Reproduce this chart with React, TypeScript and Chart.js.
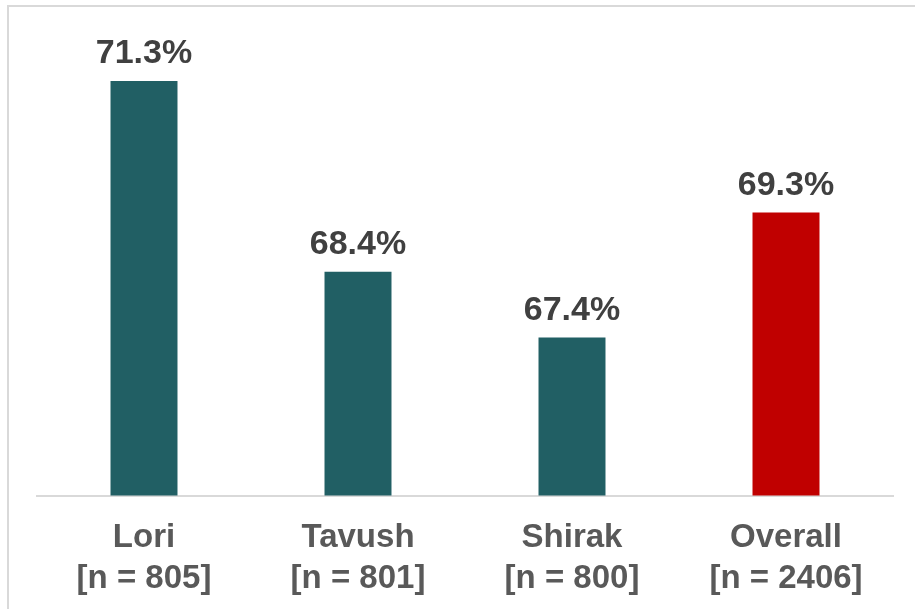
import React, { useEffect, useRef } from "react";
import { Chart, registerables } from "chart.js";

Chart.register(...registerables);

const categories: string[][] = [
  ["Lori", "[n = 805]"],
  ["Tavush", "[n = 801]"],
  ["Shirak", "[n = 800]"],
  ["Overall", "[n = 2406]"],
];
const values: number[] = [71.3, 68.4, 67.4, 69.3];
const barColors: string[] = ["#215F64", "#215F64", "#215F64", "#C00000"];
const axisMin = 65;
const axisMax = 72;

const FONT = "'Liberation Sans', Arial, sans-serif";

const framePlugin = {
  id: "frame",
  beforeDraw(chart: any) {
    const ctx = chart.ctx;
    ctx.save();
    ctx.fillStyle = "#ffffff";
    ctx.fillRect(0, 0, chart.width, chart.height);
    ctx.strokeStyle = "#d9d9d9";
    ctx.lineWidth = 2;
    ctx.strokeRect(8, 6, chart.width + 20, chart.height + 20);
    ctx.restore();
  },
};

const valueLabelPlugin = {
  id: "valueLabels",
  afterDatasetsDraw(chart: any) {
    const ctx = chart.ctx;
    const meta = chart.getDatasetMeta(0);
    ctx.save();
    ctx.font = `bold 34px ${FONT}`;
    ctx.fillStyle = "#404040";
    ctx.textAlign = "center";
    ctx.textBaseline = "alphabetic";
    meta.data.forEach((bar: any, i: number) => {
      ctx.fillText(values[i].toFixed(1) + "%", bar.x, bar.y - 18);
    });
    ctx.restore();
  },
};

export default function App() {
  const ref = useRef<HTMLCanvasElement | null>(null);
  useEffect(() => {
    if (!ref.current) return;
    const chart = new Chart(ref.current, {
      type: "bar",
      data: {
        labels: categories,
        datasets: [
          {
            data: values,
            backgroundColor: barColors,
            categoryPercentage: 1,
            barPercentage: 0.313,
          },
        ],
      },
      options: {
        animation: false,
        responsive: false,
        devicePixelRatio: 1,
        layout: { padding: { left: 37, right: 22, top: 35, bottom: -13 } },
        plugins: { legend: { display: false }, tooltip: { enabled: false } },
        scales: {
          x: {
            grid: { display: false, drawTicks: false },
            border: { display: true, color: "#d9d9d9", width: 2 },
            ticks: {
              color: "#595959",
              font: { family: FONT, size: 33, weight: "bold", lineHeight: 1.25 },
              padding: 22,
              maxRotation: 0,
              autoSkip: false,
            },
          },
          y: {
            display: false,
            min: axisMin,
            max: axisMax,
          },
        },
      },
      plugins: [framePlugin, valueLabelPlugin],
    });
    return () => chart.destroy();
  }, []);
  return (
    <div style={{ position: "fixed", left: 0, top: 0, width: 915, height: 609 }}>
      <canvas ref={ref} width={915} height={609} style={{ width: 915, height: 609, display: "block" }} />
    </div>
  );
}
